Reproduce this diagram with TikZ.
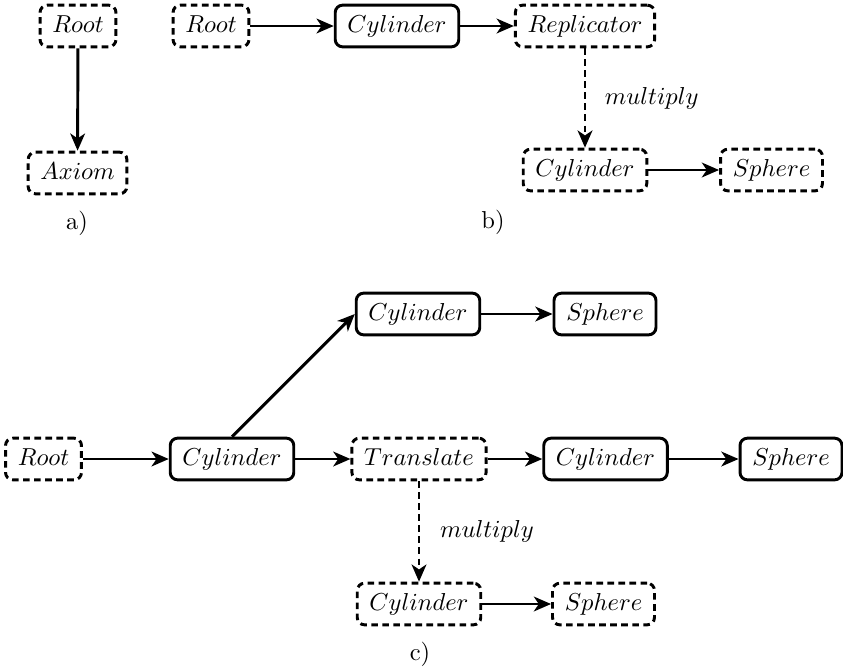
\documentclass[tikz,border=0pt]{standalone}
\usetikzlibrary{arrows.meta}
\begin{document}
\begin{tikzpicture}[x=0.408pt,y=-0.408pt,
  box/.style={draw,line width=1.2pt,rounded corners=3pt,inner xsep=5pt,inner ysep=4pt,text height=7pt,text depth=2pt},
  dbox/.style={box,dash pattern=on 2.7pt off 1.8pt},
  conn/.style={line width=1.2pt,-{Stealth[length=7pt,width=6pt,inset=2pt]}},
  dconn/.style={conn,dash pattern=on 2.7pt off 1.8pt},
  lbl/.style={inner sep=0pt}]
\useasboundingbox (0,0) rectangle (843,668);
% a)
\node[dbox] (aroot) at (78,26) {$Root$};
\node[dbox] (aaxiom) at (77.5,173) {$Axiom$};
\draw[conn] (aroot) -- (aaxiom);
\node[lbl] (la) at (77,223) {a)};
% b)
\node[dbox] (broot) at (211,26) {$Root$};
\node[box] (bcyl) at (397,26) {$Cylinder$};
\node[dbox] (brep) at (585,26) {$Replicator$};
\node[dbox] (bcyl2) at (585,170) {$Cylinder$};
\node[dbox] (bsph) at (771.5,170) {$Sphere$};
\draw[conn] (broot) -- (bcyl);
\draw[conn] (bcyl) -- (brep);
\draw[dconn] (brep) -- node[right=7.5pt,lbl] (bmul) {$multiply$} (bcyl2);
\draw[conn] (bcyl2) -- (bsph);
\node[lbl] (lb) at (493,222) {b)};
% c)
\node[box] (ctcyl) at (418,314) {$Cylinder$};
\node[box] (ctsph) at (605,314) {$Sphere$};
\node[dbox] (croot) at (43.5,459) {$Root$};
\node[box] (ccyl) at (232,459) {$Cylinder$};
\node[dbox] (ctr) at (419,459) {$Translate$};
\node[box] (ccyl2) at (605.5,459) {$Cylinder$};
\node[box] (csph2) at (791,459) {$Sphere$};
\node[dbox] (cbcyl) at (419,604) {$Cylinder$};
\node[dbox] (cbsph) at (603.5,604) {$Sphere$};
\draw[conn] (ccyl.north) -- (ctcyl.west);
\draw[conn] (ctcyl) -- (ctsph);
\draw[conn] (croot) -- (ccyl);
\draw[conn] (ccyl) -- (ctr);
\draw[conn] (ctr) -- (ccyl2);
\draw[conn] (ccyl2) -- (csph2);
\draw[dconn] (ctr) -- node[right=8pt,lbl] (cmul) {$multiply$} (cbcyl);
\draw[conn] (cbcyl) -- (cbsph);
\node[lbl] (lc) at (420,654) {c)};
\end{tikzpicture}
\end{document}
